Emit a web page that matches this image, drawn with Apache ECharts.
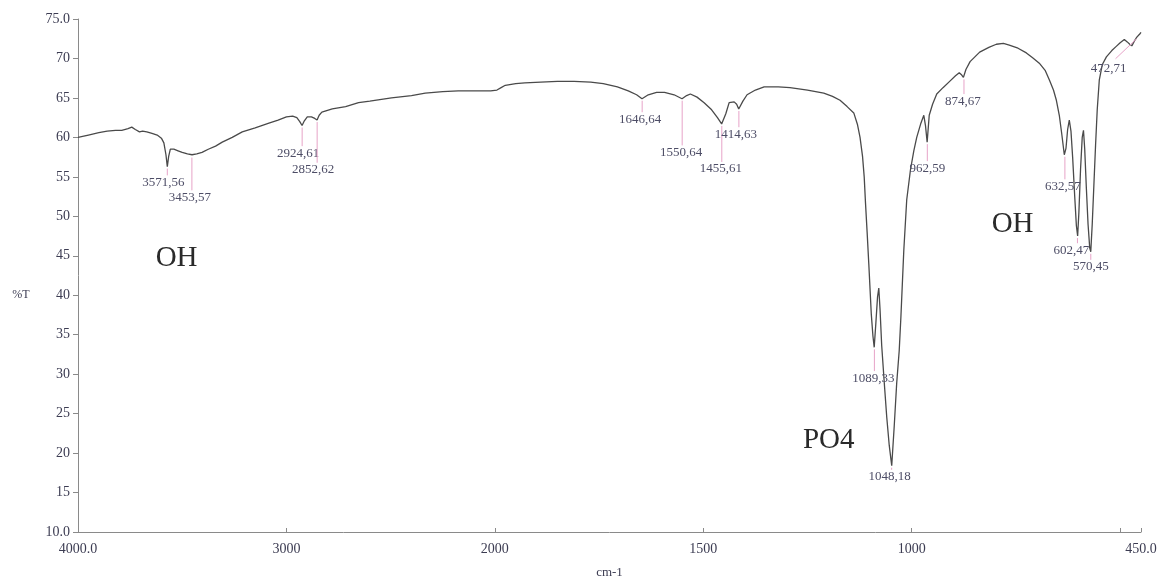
<!DOCTYPE html>
<html><head><meta charset="utf-8">
<script src="https://cdn.jsdelivr.net/npm/echarts@6/dist/echarts.min.js"></script>
<style>html,body{margin:0;padding:0;background:#fff}#c{width:1174px;height:585px}</style>
</head><body><div id="c"></div>
<script>
// ---- DATA ----
const wavenumbers = [4000,3950,3900,3860,3820,3790,3760,3742,3725,3705,3690,3670,3645,3620,3600,3588,3578,3571.5,3565,3557,3540,3520,3500,3475,3453,3430,3405,3375,3340,3308,3260,3212,3150,3084,3040,3000,2970,2950,2936,2925,2914,2900,2880,2864,2853,2843,2830,2780,2716,2654,2600,2496,2400,2334,2250,2176,2100,2020,1995,1985,1975,1950,1928,1890,1850,1810,1770,1740,1706,1680,1660,1647,1632,1612,1593,1570,1551,1540,1531,1515,1498,1480,1466,1456,1446,1438,1426,1420,1415,1405,1395,1375,1354,1320,1292,1250,1211,1190,1172,1155,1139,1130,1124,1118,1114,1111,1107,1103,1097,1093,1090,1086,1082,1079,1076,1072,1066,1060,1054,1048,1042,1036,1030,1026,1019,1012,1003,995,988,978,971,967,963,958,950,940,925,909,895,886,880,876,870,860,837,815,797,780,766,745,725,710,694,680,670,660,653,646,640,634,630,626,622,618,614,609,605,602,599,595,591,588,585,581,577,573,570.5,567,563,559,555,550,543,533,520,510,500,490,483,477,472,466,460,453,450];
const transmittance = [60.0,60.3,60.6,60.8,60.9,60.9,61.1,61.3,61.0,60.7,60.8,60.7,60.5,60.3,59.9,59.3,57.8,56.3,57.6,58.5,58.5,58.3,58.1,57.9,57.8,57.9,58.1,58.5,58.9,59.4,60.0,60.7,61.2,61.8,62.2,62.6,62.7,62.5,62.0,61.5,62.1,62.6,62.6,62.4,62.2,62.8,63.2,63.6,63.9,64.4,64.6,65.0,65.3,65.6,65.8,65.9,65.9,65.9,66.0,66.3,66.6,66.8,66.9,67.0,67.1,67.1,67.0,66.8,66.4,65.9,65.4,64.9,65.4,65.7,65.7,65.4,64.9,65.3,65.5,65.1,64.4,63.5,62.5,61.7,63.0,64.4,64.5,64.2,63.6,64.6,65.4,66.0,66.4,66.4,66.3,66.0,65.6,65.2,64.7,63.9,63.1,61.6,60.0,57.6,55.0,51.8,48.0,44.0,37.6,34.8,33.4,36.5,39.8,40.9,38.2,33.6,29.0,24.6,21.0,18.4,23.4,28.9,33.0,37.2,45.7,52.1,55.9,58.3,60.0,61.8,62.8,61.5,59.4,62.8,64.2,65.5,66.3,67.1,67.8,68.2,67.9,67.6,68.6,69.6,70.8,71.4,71.8,71.9,71.7,71.3,70.7,70.1,69.4,68.5,67.3,66.0,64.7,62.8,60.4,57.8,58.6,61.0,62.2,60.8,57.5,52.5,48.8,47.5,50.5,56.0,60.0,60.9,58.5,53.5,49.0,46.0,45.5,49.0,54.0,59.0,63.5,67.3,69.2,70.2,71.0,71.5,72.0,72.4,72.1,71.8,71.6,72.2,72.7,73.1,73.3];

const peakWavenumbers = [3571.56,3453.57,2924.61,2852.62,1646.64,1550.64,1455.61,1414.63,1089.53,1048.18,962.59,874.67,632.57,602.47,570.45,472.71];
const peakTransmittance = [56.3,57.7,61.5,62.2,64.9,64.9,61.7,63.6,33.4,18.4,59.4,67.6,57.8,47.5,45.5,71.6];
const peakLabels = ['3571,56','3453,57','2924,61','2852,62','1646,64','1550,64','1455,61','1414,63','1089,33','1048,18','962,59','874,67','632,57','602,47','570,45','472,71'];

const xTickWavenumbers = [4000,3000,2000,1500,1000,450];
const xTickLabels = ['4000.0','3000','2000','1500','1000','450.0'];
const xMinorTickWavenumbers = [500];
const yTickLabels = {75:'75.0',10:'10.0'};
const yAxisTitle = '%T';
const yAxisTitleLevel = 40;

const bandLabels = ['OH','OH','PO4'];

// ---- LAYOUT (annotation placement, in data coordinates) ----
const peakLabelLevel = [54.3,52.4,58.0,55.9,62.3,58.1,56.0,60.4,29.5,17.0,56.1,64.6,53.8,45.7,43.6,68.7];
const peakLabelDx = [-4,-2,-4,-4,-2,-1,-1,-3,-1,-2,0,-1,-2,-6,0,-23];
const bandLabelPos = [[3527,44.7],[758,49.0],[1199,21.6]];

// instrument abscissa: scale x2 below 2000 cm-1
function u(w){ return w >= 2000 ? 2000 + (w - 2000) / 2 : w; }
function wOf(v){ return v >= 2000 ? 2000 + (v - 2000) * 2 : v; }

const serif = '"Liberation Serif","DejaVu Serif",serif';
const chart = echarts.init(document.getElementById('c'));

const lineData = wavenumbers.map((w,i)=>[u(w), transmittance[i]]);
const peakData = peakWavenumbers.map((w,i)=>[u(w), peakTransmittance[i], peakLabelLevel[i], i]);
const bandData = bandLabelPos.map((p,i)=>[u(p[0]), p[1], i]);

chart.setOption({
  animation:false,
  backgroundColor:'#fff',
  grid:{left:78, right:33, top:19, bottom:53, containLabel:false},
  xAxis:{
    type:'value', inverse:true, min:450, max:3000,
    name:'cm-1', nameLocation:'middle', nameGap:34,
    nameTextStyle:{fontFamily:serif, fontSize:13, color:'#3c3c52'},
    axisLine:{lineStyle:{color:'#8a8a8a', width:1}},
    axisTick:{show:true, inside:true, length:4, customValues: xTickWavenumbers.concat(xMinorTickWavenumbers).map(u), lineStyle:{color:'#8a8a8a'}},
    axisLabel:{customValues: xTickWavenumbers.map(u), fontFamily:serif, fontSize:14, color:'#3c3c52', margin:10,
      formatter:(v)=>{ const w=wOf(v); const k=xTickWavenumbers.indexOf(Math.round(w)); return k>=0?xTickLabels[k]:''; }},
    splitLine:{show:false}
  },
  yAxis:{
    type:'value', min:10, max:75, interval:5,
    axisLine:{show:true, lineStyle:{color:'#8a8a8a', width:1}},
    axisTick:{show:true, length:5, lineStyle:{color:'#8a8a8a'}},
    axisLabel:{fontFamily:serif, fontSize:14, color:'#3c3c52', margin:8,
      formatter:(v)=> yTickLabels[v] || String(v)},
    splitLine:{show:false}
  },
  series:[
    {type:'line', data:lineData, showSymbol:false, symbol:'none', smooth:false,
     lineStyle:{color:'#4a4a4a', width:1.3}, z:3},
    {type:'custom', data:peakData, clip:false, silent:true, z:4, encode:{x:0,y:1},
     renderItem:(params, api)=>{
       const i = api.value(3);
       const p = api.coord([api.value(0), api.value(1)]);
       const l = api.coord([api.value(0), api.value(2)]);
       const dx = peakLabelDx[i];
       const children = [];
       if (i === 15) {
         children.push({type:'line', shape:{x1:l[0]+dx+7, y1:l[1]-10, x2:p[0]+5, y2:p[1]-7},
           style:{stroke:'#e7a3c8', lineWidth:1}});
       } else if (l[1]-7 > p[1]+2) {
         children.push({type:'line', shape:{x1:p[0], y1:p[1]+2, x2:p[0], y2:l[1]-7},
           style:{stroke:'#e7a3c8', lineWidth:1}});
       }
       children.push({type:'text', style:{text:peakLabels[i], x:l[0]+dx, y:l[1], align:'center', verticalAlign:'middle',
         font:'13px '+serif, fill:'#4d4d66'}});
       return {type:'group', children};
     }},
    {type:'custom', data:bandData, clip:false, silent:true, z:4, encode:{x:0,y:1},
     renderItem:(params, api)=>{
       const i = api.value(2);
       const p = api.coord([api.value(0), api.value(1)]);
       return {type:'text', style:{text:bandLabels[i], x:p[0], y:p[1], align:'center', verticalAlign:'middle',
         font:'29px '+serif, fill:'#2a2a2a'}};
     }}
  ]
});
const titleY = chart.convertToPixel({yAxisIndex:0}, yAxisTitleLevel);
chart.setOption({graphic:[{type:'text', x:21, y:titleY, style:{text:yAxisTitle, align:'center', verticalAlign:'middle',
  font:'12px '+serif, fill:'#3c3c52'}}]});
</script></body></html>
